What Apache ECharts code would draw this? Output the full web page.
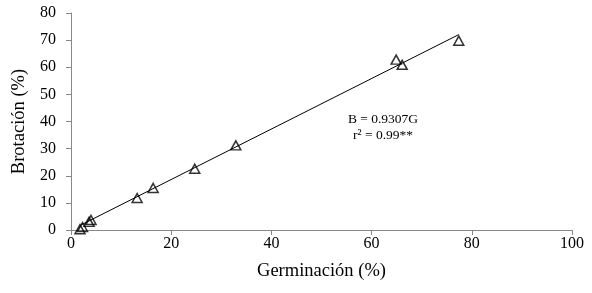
<!DOCTYPE html>
<html><head><meta charset="utf-8">
<script src="https://cdn.jsdelivr.net/npm/echarts@6/dist/echarts.min.js"></script>
<style>html,body{margin:0;padding:0;background:#fff}#c{width:592px;height:293px}</style>
</head><body><div id="c"></div>
<script>
const germ = [1.8, 2.3, 3.6, 4.0, 13.2, 16.4, 24.7, 32.9, 64.9, 66.1, 77.4];
const brot = [0.3, 1.1, 3.0, 3.7, 11.8, 15.5, 22.6, 31.2, 62.8, 60.9, 69.8];
const slope = 0.9307;
const lineX = [2.0, 77.4];
const xTicks = [0, 20, 40, 60, 80, 100];
const yTicks = [0, 10, 20, 30, 40, 50, 60, 70, 80];
const eqLines = ['B = 0.9307G', 'r² = 0.99**'];

const chart = echarts.init(document.getElementById('c'));
const font = '"Liberation Serif", "Times New Roman", serif';
chart.setOption({
  animation: false,
  grid: {left: 71, right: 20, top: 13, bottom: 63},
  xAxis: {
    type: 'value', min: 0, max: 100, interval: 20,
    name: 'Germinación (%)', nameLocation: 'middle', nameGap: 32,
    nameTextStyle: {fontFamily: font, fontSize: 18.5, color: '#000'},
    axisLine: {lineStyle: {color: '#888'}},
    axisTick: {show: true, length: 5, lineStyle: {color: '#888'}},
    axisLabel: {fontFamily: font, fontSize: 16, color: '#000', margin: 6},
    splitLine: {show: false}
  },
  yAxis: {
    type: 'value', min: 0, max: 80, interval: 10,
    name: 'Brotación (%)', nameLocation: 'middle', nameGap: 41, nameRotate: 90,
    nameTextStyle: {fontFamily: font, fontSize: 18.5, color: '#000'},
    axisLine: {show: true, lineStyle: {color: '#888'}},
    axisTick: {show: true, length: 5, lineStyle: {color: '#888'}},
    axisLabel: {fontFamily: font, fontSize: 16, color: '#000', margin: 15},
    splitLine: {show: false}
  },
  series: [
    {
      type: 'line', data: lineX.map(x => [x, slope * x]),
      symbol: 'none', lineStyle: {color: '#000', width: 1}, z: 1
    },
    {
      type: 'scatter', data: germ.map((g, i) => [g, brot[i]]),
      symbol: 'triangle', symbolSize: [10, 9],
      itemStyle: {color: 'rgba(255,255,255,0)', borderColor: '#000', borderWidth: 1.5}, z: 3
    }
  ],
  graphic: [{
    type: 'text', x: 383, y: 111,
    style: {text: eqLines.join('\n'), font: '13.5px ' + font, fill: '#000', lineHeight: 16, align: 'center'}
  }]
});
</script></body></html>
